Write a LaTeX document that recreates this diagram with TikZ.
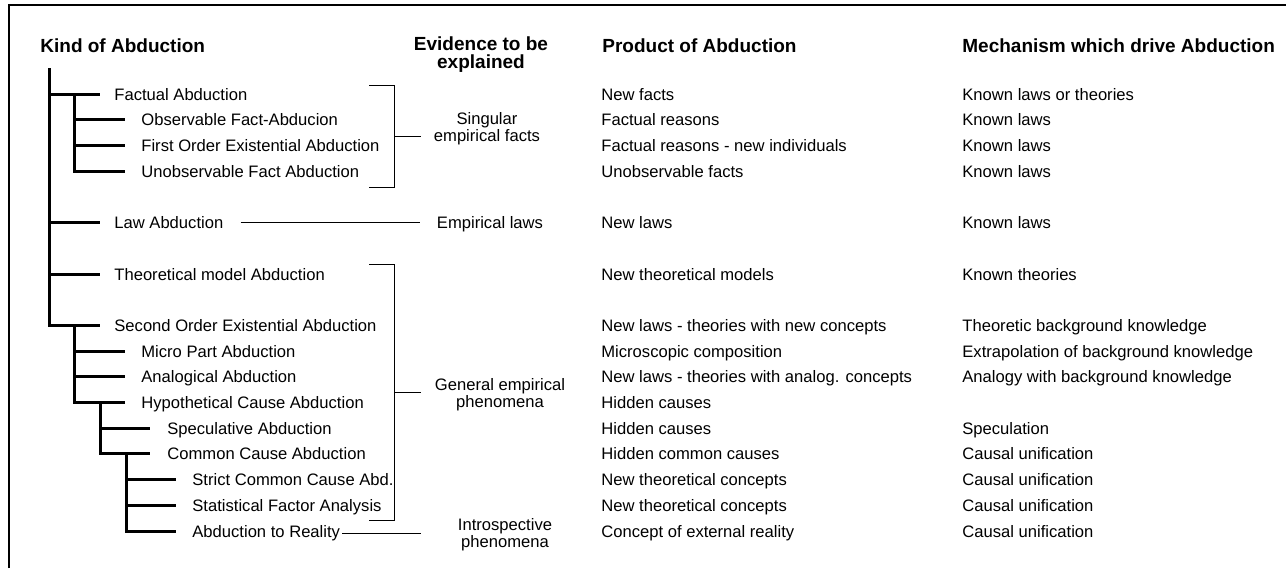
\documentclass[tikz,border=0pt]{standalone}
\usepackage{fontspec}
\setmainfont{Liberation Sans}
\begin{document}
\begin{tikzpicture}[x=0.5pt,y=-0.5pt,
  row/.style={anchor=west,inner sep=0pt,text height=6pt,text depth=0pt,font=\fontsize{8.3}{8.5}\selectfont},
  rowc/.style={row,anchor=center},
  hdr/.style={anchor=base west,inner sep=0pt,font=\fontsize{9.5}{9}\selectfont\bfseries},
  ev/.style={anchor=center,inner sep=0pt,align=center,font=\fontsize{8.3}{8.5}\selectfont},
  evh/.style={anchor=center,inner sep=0pt,align=center,font=\fontsize{9.5}{9}\selectfont\bfseries},
  tree/.style={line width=1.5pt},
  brk/.style={line width=0.5pt},
  frame/.style={line width=1pt}]
\useasboundingbox (0,0) rectangle (1286,568);
% frame
\draw[frame] (9,568) -- (9,5) -- (1286,5);
% headers
\node[hdr] (hkind) at (40,52) {Kind of Abduction};
\node[evh] (hev) at (481,55) {Evidence to be\\explained};
\node[hdr] (hprod) at (602,52) {Product of Abduction};
\node[hdr] (hmech) at (962,52) {Mechanism which drive Abduction};
% kinds
\node[row] (fa) at (114,94) {Factual Abduction};
\node[row] (ob) at (141,119.7) {Observable Fact-Abducion};
\node[row] (fo) at (141,145.4) {First Order Existential Abduction};
\node[row] (uf) at (141,171.1) {Unobservable Fact Abduction};
\node[row] (la) at (114,222.5) {Law Abduction};
\node[row] (tm) at (114,274) {Theoretical model Abduction};
\node[row] (so) at (114,325.4) {Second Order Existential Abduction};
\node[row] (mp) at (141,351.1) {Micro Part Abduction};
\node[row] (an) at (141,376.8) {Analogical Abduction};
\node[row] (hc) at (141,402.5) {Hypothetical Cause Abduction};
\node[row] (sp) at (167,428.2) {Speculative Abduction};
\node[row] (cc) at (167,453.9) {Common Cause Abduction};
\node[row] (sc) at (192,479.6) {Strict Common Cause Abd.};
\node[row] (sf) at (192,505.3) {Statistical Factor Analysis};
\node[row] (ar) at (192,531) {Abduction to Reality};
% tree
\draw[tree] (49,68) -- (49,0 |- so.west) -- (100,0 |- so.west);
\foreach \n in {fa,la,tm} \draw[tree] (49,0 |- \n.west) -- (100,0 |- \n.west);
\draw[tree] (74,0 |- fa.west) -- (74,0 |- uf.west) -- (125,0 |- uf.west);
\foreach \n in {ob,fo} \draw[tree] (74,0 |- \n.west) -- (125,0 |- \n.west);
\draw[tree] (74,0 |- so.west) -- (74,0 |- hc.west) -- (125,0 |- hc.west);
\foreach \n in {mp,an} \draw[tree] (74,0 |- \n.west) -- (125,0 |- \n.west);
\draw[tree] (100,0 |- hc.west) -- (100,0 |- cc.west) -- (150,0 |- cc.west);
\draw[tree] (100,0 |- sp.west) -- (150,0 |- sp.west);
\draw[tree] (126,0 |- cc.west) -- (126,0 |- ar.west) -- (176,0 |- ar.west);
\foreach \n in {sc,sf} \draw[tree] (126,0 |- \n.west) -- (176,0 |- \n.west);
% evidence
\node[ev] (sing) at (487,129) {Singular\\empirical facts};
\node[rowc] (el) at (490,222.5) {Empirical laws};
\node[ev] (gen) at (500,395) {General empirical\\phenomena};
\node[ev] (intro) at (505,535) {Introspective\\phenomena};
% brackets
\coordinate (b1t) at (369,85);
\coordinate (b1b) at (369,187);
\coordinate (b1m) at (394,136);
\draw[brk] (b1t) -- (394,85) -- (394,187) -- (b1b);
\draw[brk] (b1m) -- (421,136);
\coordinate (b2t) at (369,264);
\coordinate (b2b) at (369,520);
\coordinate (b2m) at (394,392);
\draw[brk] (b2t) -- (394,264) -- (394,520) -- (b2b);
\draw[brk] (b2m) -- (421,392);
\draw[brk] ([xshift=8.5pt]la.east) -- ([xshift=-8.5pt]el.west);
\draw[brk] ([shift={(1pt,-1pt)}]ar.east) -- (421,533);
% products
\node[row] (p1) at (601,94) {New facts};
\node[row] (p2) at (601,119.7) {Factual reasons};
\node[row] (p3) at (601,145.4) {Factual reasons - new individuals};
\node[row] (p4) at (601,171.1) {Unobservable facts};
\node[row] (p5) at (601,222.5) {New laws};
\node[row] (p6) at (601,274) {New theoretical models};
\node[row] (p7) at (601,325.4) {New laws - theories with new concepts};
\node[row] (p8) at (601,351.1) {Microscopic composition};
\node[row] (p9) at (601,376.8) {New laws - theories with analog. concepts};
\node[row] (p10) at (601,402.5) {Hidden causes};
\node[row] (p11) at (601,428.2) {Hidden causes};
\node[row] (p12) at (601,453.9) {Hidden common causes};
\node[row] (p13) at (601,479.6) {New theoretical concepts};
\node[row] (p14) at (601,505.3) {New theoretical concepts};
\node[row] (p15) at (601,531) {Concept of external reality};
% mechanisms
\node[row] (m1) at (962,94) {Known laws or theories};
\node[row] (m2) at (962,119.7) {Known laws};
\node[row] (m3) at (962,145.4) {Known laws};
\node[row] (m4) at (962,171.1) {Known laws};
\node[row] (m5) at (962,222.5) {Known laws};
\node[row] (m6) at (962,274) {Known theories};
\node[row] (m7) at (962,325.4) {Theoretic background knowledge};
\node[row] (m8) at (962,351.1) {Extrapolation of background knowledge};
\node[row] (m9) at (962,376.8) {Analogy with background knowledge};
\node[row] (m11) at (962,428.2) {Speculation};
\node[row] (m12) at (962,453.9) {Causal unification};
\node[row] (m13) at (962,479.6) {Causal unification};
\node[row] (m14) at (962,505.3) {Causal unification};
\node[row] (m15) at (962,531) {Causal unification};
\end{tikzpicture}
\end{document}
